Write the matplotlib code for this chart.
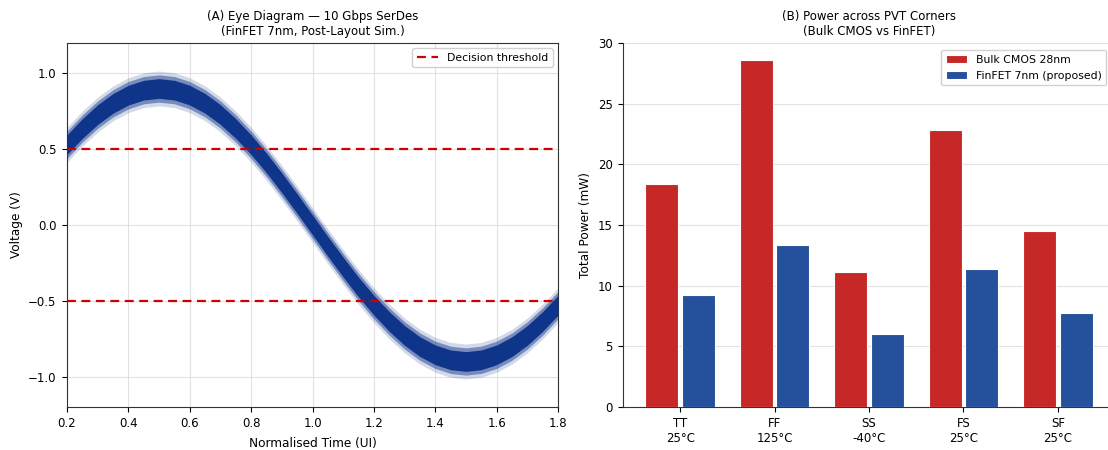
import matplotlib
matplotlib.use("Agg")
import matplotlib.pyplot as plt
import numpy as np

# ---- Panel A data (centre of the eye trace) ----
t_ui = [0.20, 0.25, 0.30, 0.35, 0.40, 0.45, 0.50, 0.55, 0.60, 0.65, 0.70,
        0.75, 0.80, 0.85, 0.90, 0.95, 1.00, 1.05, 1.10, 1.15, 1.20, 1.25,
        1.30, 1.35, 1.40, 1.45, 1.50, 1.55, 1.60, 1.65, 1.70, 1.75, 1.80]
v_centre = [0.529, 0.636, 0.728, 0.802, 0.856, 0.889, 0.900, 0.889, 0.856, 0.802, 0.728,
            0.636, 0.529, 0.409, 0.278, 0.141, 0.000, -0.141, -0.278, -0.409, -0.529, -0.636,
            -0.728, -0.802, -0.856, -0.889, -0.900, -0.889, -0.856, -0.802, -0.728, -0.636, -0.529]
core_halfwidth = 0.065
mid_halfwidth = 0.09
halo_halfwidth = 0.115
thresholds = [0.5, -0.5]

# ---- Panel B data ----
corners = ["TT\n25°C", "FF\n125°C", "SS\n-40°C", "FS\n25°C", "SF\n25°C"]
bulk_cmos = [18.4, 28.6, 11.1, 22.8, 14.5]
finfet = [9.2, 13.35, 6.05, 11.35, 7.75]

fig = plt.figure(figsize=(11.08, 4.5), dpi=100)
W, H = 1108, 450

def pos(l, t, r, b):
    return [l / W, 1 - b / H, (r - l) / W, (b - t) / H]

navy = "#0a3088"
axA = fig.add_axes(pos(67, 43, 558, 407))
t = np.array(t_ui)
v = np.array(v_centre)
axA.fill_between(t, v - halo_halfwidth, v + halo_halfwidth, color=navy, alpha=0.18, lw=0, zorder=2)
axA.fill_between(t, v - mid_halfwidth, v + mid_halfwidth, color=navy, alpha=0.45, lw=0, zorder=2)
axA.fill_between(t, v - core_halfwidth, v + core_halfwidth, color=navy, alpha=0.95, lw=0, zorder=3)
for i, th in enumerate(thresholds):
    axA.axhline(th, color="#cc0000", ls=(0, (4, 2.5)), lw=1.6, zorder=4,
                label="Decision threshold" if i == 0 else None)
axA.set_xlim(0.2, 1.8)
axA.set_ylim(-1.2, 1.2)
axA.set_xticks([0.2, 0.4, 0.6, 0.8, 1.0, 1.2, 1.4, 1.6, 1.8])
axA.set_yticks([-1.0, -0.5, 0.0, 0.5, 1.0])
axA.grid(True, color="#d0d0d0", alpha=0.6, lw=0.8)
axA.set_axisbelow(True)
axA.set_xlabel("Normalised Time (UI)", fontsize=8.7, labelpad=5)
axA.set_ylabel("Voltage (V)", fontsize=8.7)
axA.set_title("(A) Eye Diagram — 10 Gbps SerDes\n(FinFET 7nm, Post-Layout Sim.)", fontsize=8.5, pad=6)
axA.tick_params(labelsize=8.5, pad=4)
for s in axA.spines.values():
    s.set_color("#333333")
axA.legend(loc="upper right", fontsize=7.8, framealpha=0.9, fancybox=True)

axB = fig.add_axes(pos(623, 43, 1115, 407))
x = np.arange(len(corners))
off, w = 0.194, 0.35
axB.bar(x - off, bulk_cmos, w, color="#c62828", edgecolor="white", lw=0.8, label="Bulk CMOS 28nm", zorder=3)
axB.bar(x + off, finfet, w, color="#24509c", edgecolor="white", lw=0.8, label="FinFET 7nm (proposed)", zorder=3)
axB.set_xticks(x)
axB.set_xticklabels(corners, fontsize=8.5)
axB.set_ylim(0, 30)
axB.set_yticks([0, 5, 10, 15, 20, 25, 30])
axB.tick_params(labelsize=8.5, pad=4)
axB.grid(True, axis="y", color="#d0d0d0", alpha=0.6, lw=0.8)
axB.set_axisbelow(True)
axB.spines["top"].set_visible(False)
axB.spines["right"].set_visible(False)
for s in ["left", "bottom"]:
    axB.spines[s].set_color("#333333")
axB.set_ylabel("Total Power (mW)", fontsize=8.7)
axB.set_title("(B) Power across PVT Corners\n(Bulk CMOS vs FinFET)", fontsize=8.5, pad=6)
axB.legend(loc="upper right", bbox_to_anchor=(0.993, 0.995), fontsize=7.8, framealpha=0.9,
           labelspacing=0.6)

fig.savefig("out.png", dpi=100)
